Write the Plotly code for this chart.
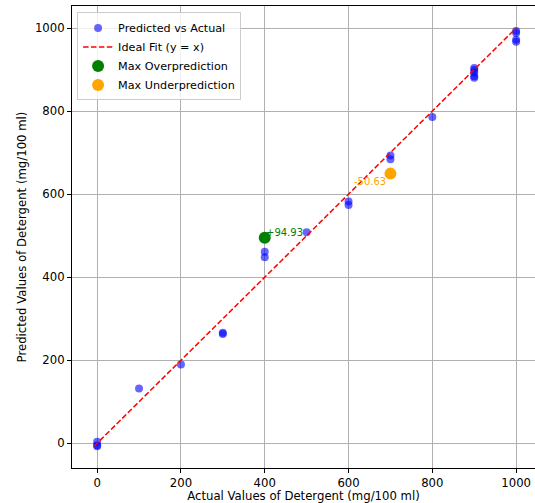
import plotly.graph_objects as go

# Data
actual = [0, 0, 0, 100, 200, 300, 300, 400, 400, 400, 500, 600, 600,
          700, 700, 700, 800, 900, 900, 900, 900, 900, 1000, 1000, 1000, 1000]
predicted = [4, -5, -7, 132, 190, 263, 266, 494.93, 461, 448, 508, 582, 574,
             693, 684, 649.37, 786, 904, 899, 893, 884, 880, 993, 988, 972, 967]

over_x = [400]
over_y = [494.93]
over_label = ["+94.93"]
under_x = [700]
under_y = [649.37]
under_label = ["-50.63"]

lo = min(actual + predicted)
hi = max(actual + predicted)
ideal = [lo, hi]

tick_vals = [0, 200, 400, 600, 800, 1000]
FONT = "DejaVu Sans"

fig = go.Figure()
fig.add_trace(go.Scatter(
    x=actual, y=predicted, mode="markers", name="Predicted vs Actual",
    marker=dict(color="rgba(0,0,255,0.6)", size=8, line=dict(width=0)),
))
fig.add_trace(go.Scatter(
    x=ideal, y=ideal, mode="lines", name="Ideal Fit (y = x)",
    line=dict(color="red", width=1.5, dash="5.5px,2.4px"),
))
fig.add_trace(go.Scatter(
    x=over_x, y=over_y, mode="markers", name="Max Overprediction",
    marker=dict(color="green", size=12, line=dict(width=0)),
))
fig.add_trace(go.Scatter(
    x=under_x, y=under_y, mode="markers", name="Max Underprediction",
    marker=dict(color="orange", size=12, line=dict(width=0)),
))

fig.add_annotation(x=over_x[0], y=over_y[0], text=over_label[0], showarrow=False,
                   xanchor="left", yanchor="bottom", xshift=-1, yshift=-2,
                   font=dict(color="green", size=10, family=FONT))
fig.add_annotation(x=under_x[0], y=under_y[0], text=under_label[0], showarrow=False,
                   xanchor="right", yanchor="top", xshift=-2, yshift=0,
                   font=dict(color="orange", size=10, family=FONT))

axis_common = dict(
    showline=True, linecolor="black", linewidth=1, mirror=True,
    showgrid=True, gridcolor="#b0b0b0", gridwidth=1,
    ticks="outside", ticklen=4, tickcolor="black", tickwidth=1,
    tickvals=tick_vals, zeroline=False,
    tickfont=dict(size=11.7, family=FONT, color="black"),
    automargin=False,
)

fig.update_layout(
    width=535, height=503,
    margin=dict(l=72, r=0, t=6, b=35),
    paper_bgcolor="white", plot_bgcolor="white",
    font=dict(family=FONT, size=11.7, color="black"),
    showlegend=True,
    legend=dict(
        x=0.011, y=0.986, xanchor="left", yanchor="top",
        bgcolor="rgba(255,255,255,0.8)", bordercolor="#cccccc", borderwidth=1,
        font=dict(size=11.2, family=FONT), tracegroupgap=0,
    ),
    xaxis=dict(range=[-60, 1045],
               title=dict(text="Actual Values of Detergent (mg/100 ml)", standoff=6,
                          font=dict(size=11.7, family=FONT)),
               **axis_common),
    yaxis=dict(range=[-59.5, 1053],
               title=dict(text="Predicted Values of Detergent (mg/100 ml)", standoff=5,
                          font=dict(size=11.7, family=FONT)),
               **axis_common),
)

fig.write_html("out.html", config={"displayModeBar": False},
               post_script="document.body.style.margin='0';document.body.style.overflow='hidden';")
